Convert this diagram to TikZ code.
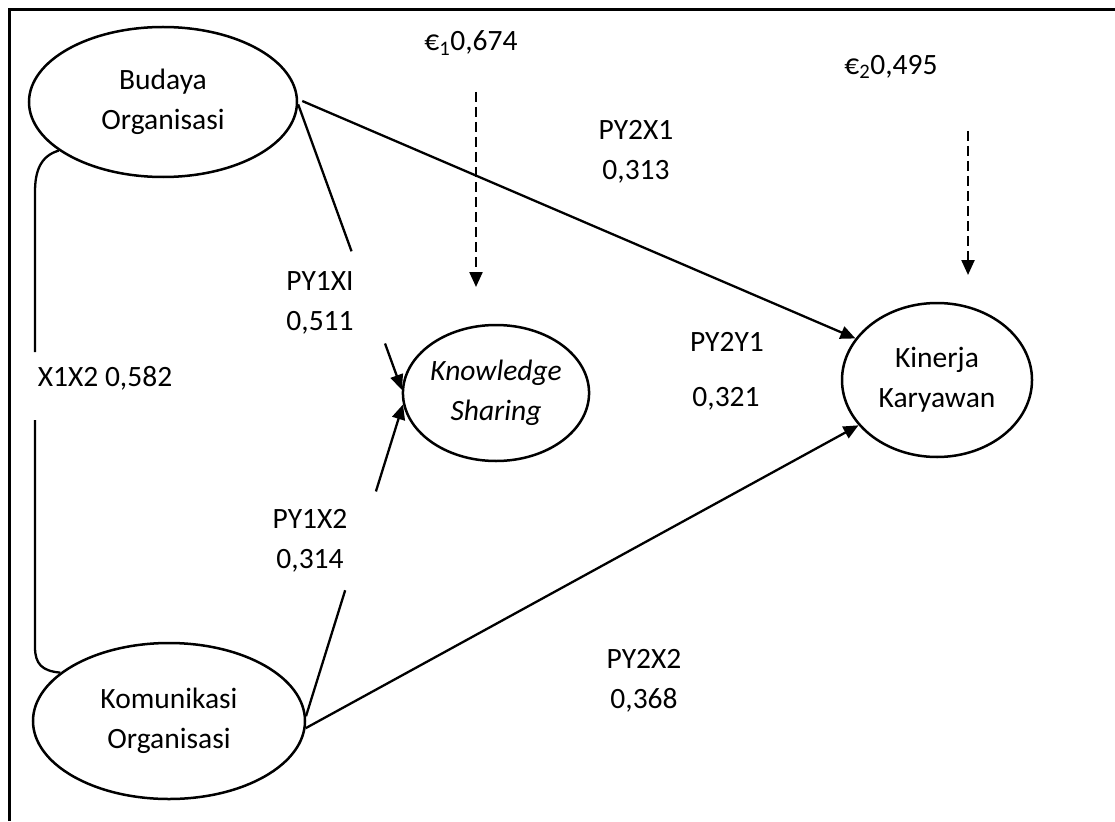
\documentclass[tikz,border=0pt]{standalone}
\usepackage{fontspec}
\setmainfont{Carlito}
\usetikzlibrary{shapes.geometric,arrows.meta,calc}
\begin{document}
\begin{tikzpicture}[x=1pt,y=1pt,
  every node/.style={font=\fontsize{29.5}{40}\selectfont},
  latent/.style={draw,ellipse,line width=2.5pt,inner sep=0pt,align=center},
  lbl/.style={align=center,inner sep=0pt},
  conn/.style={line width=2.3pt},
  arr/.style={conn,-{Triangle[length=15pt,width=13pt]}},
  err/.style={line width=2.3pt,dash pattern=on 10pt off 5pt,-{Triangle[length=15pt,width=13pt]}}]
\useasboundingbox (0,0) rectangle (1115,-821);
\draw[line width=2.4pt] (9.5,-821) -- (9.5,-9.5) -- (1115,-9.5);

% latent variables
\node[latent,minimum width=268pt,minimum height=150pt] (bud) at (163,-102) {Budaya\\Organisasi};
\node[latent,minimum width=272pt,minimum height=156pt] (kom) at (169,-721) {Komunikasi\\Organisasi};
\node[latent,minimum width=166pt,minimum height=136pt,font=\fontsize{29.5}{40}\selectfont\itshape] (ks) at (496,-393) {Knowledge\\Sharing};
\node[latent,minimum width=190pt,minimum height=154pt] (kin) at (937,-380) {Kinerja\\Karyawan};

% error terms
\node (e1) at (471,-43) {€\textsubscript{1}0,674};
\node (e2) at (891,-67) {€\textsubscript{2}0,495};
\coordinate (e1a) at (476,-92);
\coordinate (e1b) at (476,-287);
\coordinate (e2a) at (968,-131);
\coordinate (e2b) at (968,-275);
\draw[err] (e1a) -- (e1b);
\draw[err] (e2a) -- (e2b);

% paths
\draw[arr] ($(bud.east)+(4,1)$) -- (kin.153);
\draw[arr] (kom.357) -- (kin.210);
\draw[conn] (bud.359) -- ($(bud.359)!0.515!(ks.178)$);
\draw[arr] ($(bud.359)!0.838!(ks.178)$) -- (ks.178);
\draw[conn] (kom.2) -- ($(kom.2)!0.404!(ks.187)$);
\draw[arr] ($(kom.2)!0.721!(ks.187)$) -- (ks.187);

% correlation
\coordinate (c1) at (35,-192);
\coordinate (c2) at (35,-352);
\coordinate (c3) at (35,-420);
\coordinate (c4) at (35,-647);
\draw[conn] (bud.205) .. controls (40,-156) and (35,-172) .. (c1) -- (c2);
\draw[conn] (c3) -- (c4) .. controls (35,-664) and (42,-671) .. (kom.156);

% labels
\node[lbl] (l1) at (636,-152) {PY2X1\\0,313};
\node[lbl] (l2) at (320,-303) {PY1XI\\0,511};
\node (l3a) at (727,-342) {PY2Y1};
\node (l3b) at (726,-399) {0,321};
\node (l4) at (105,-378) {X1X2 0,582};
\node[lbl] (l5) at (310,-541) {PY1X2\\0,314};
\node[lbl] (l6) at (644,-681) {PY2X2\\0,368};
\end{tikzpicture}
\end{document}
